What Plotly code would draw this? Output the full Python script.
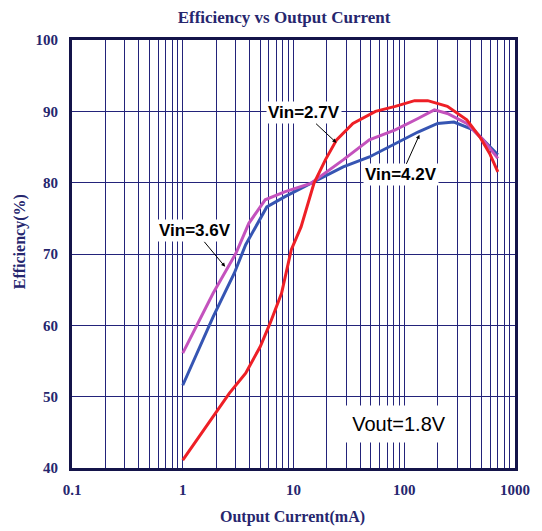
import plotly.graph_objects as go

# ---- data ----
i_27 = [1, 1.88, 2.64, 3.7, 5.0, 6.15, 7.8, 9.55, 11.7, 15.3, 19.4, 24.5, 34.4, 55, 83, 124, 163, 245, 367, 482, 590, 700]
eff_27 = [41.1, 47.2, 50.5, 53.3, 57.0, 60.3, 64.5, 70.6, 73.8, 79.9, 83.2, 86.0, 88.3, 90.0, 90.7, 91.5, 91.5, 90.7, 88.8, 86.4, 84.1, 81.5]

i_36 = [1, 1.88, 3.02, 3.95, 5.55, 8.3, 14.3, 28.1, 48.4, 83, 133, 187, 245, 367, 515, 700]
eff_36 = [56.1, 64.5, 70.1, 74.3, 77.6, 78.7, 79.9, 83.2, 86.0, 87.4, 89.0, 90.2, 89.7, 88.3, 86.0, 83.4]

i_42 = [1, 1.88, 2.92, 3.7, 5.74, 8.3, 14.3, 28.1, 48.4, 83, 133, 200, 281, 421, 552, 700]
eff_42 = [51.6, 61.2, 67.3, 71.3, 76.6, 78.0, 79.9, 82.2, 83.6, 85.5, 87.1, 88.3, 88.5, 87.4, 85.5, 83.9]

x_ticks = [0.1, 1, 10, 100, 1000]
x_tick_labels = ["0.1", "1", "10", "100", "1000"]
y_ticks = [40, 50, 60, 70, 80, 90, 100]

NAVY = "#26266e"
GRID = "#23237a"
SERIF = "Liberation Serif, Times New Roman, serif"
SANS = "Liberation Sans, Arial, sans-serif"

# the page body adds an 8px offset; figure size compensates for it
W, H = 534, 523

fig = go.Figure()
fig.add_trace(go.Scatter(x=i_42, y=eff_42, mode="lines", line=dict(color="#3655b3", width=3), name="Vin=4.2V"))
fig.add_trace(go.Scatter(x=i_36, y=eff_36, mode="lines", line=dict(color="#c452bd", width=3), name="Vin=3.6V"))
fig.add_trace(go.Scatter(x=i_27, y=eff_27, mode="lines", line=dict(color="#ee1f26", width=3), name="Vin=2.7V"))

fig.update_layout(
    width=W, height=H,
    margin=dict(l=64, r=16, t=32, b=63),
    paper_bgcolor="white", plot_bgcolor="white",
    showlegend=False,
    title=dict(text="<b>Efficiency vs Output Current</b>", x=276/W, xanchor="center",
               y=1 - 3/H, yanchor="top", pad=dict(t=0, b=0),
               font=dict(family=SERIF, size=17, color=NAVY)),
    xaxis=dict(type="log", range=[-1, 3], tickvals=x_ticks, ticktext=x_tick_labels,
               showgrid=True, gridcolor=GRID, gridwidth=1,
               minor=dict(dtick="D1", showgrid=True, gridcolor=GRID, gridwidth=1, ticks=""),
               showline=True, linecolor="#14144a", linewidth=3, mirror=True,
               ticks="", tickfont=dict(family=SERIF, size=15, color=NAVY, weight="bold"),
               zeroline=False, ticklabelstandoff=6),
    yaxis=dict(range=[40, 100], tickvals=y_ticks,
               showgrid=True, gridcolor=GRID, gridwidth=1,
               showline=True, linecolor="#14144a", linewidth=3, mirror=True,
               ticks="", tickfont=dict(family=SERIF, size=15, color=NAVY, weight="bold"),
               zeroline=False, ticklabelstandoff=8),
)

ann_font = dict(family=SANS, size=17, color="black")
fig.add_annotation(x=1.387, y=85.6, xref="x", yref="y", text="<b>Vin=2.7V</b>",
                   ax=-32, ay=-30, showarrow=True, arrowhead=2, arrowsize=0.8, arrowwidth=1,
                   arrowcolor="black", bgcolor="white", font=ann_font)
fig.add_annotation(x=2.137, y=86.7, xref="x", yref="y", text="<b>Vin=4.2V</b>",
                   ax=-18, ay=40, showarrow=True, arrowhead=2, arrowsize=0.8, arrowwidth=1,
                   arrowcolor="black", bgcolor="white", font=ann_font)
fig.add_annotation(x=0.383, y=68.2, xref="x", yref="y", text="<b>Vin=3.6V</b>",
                   ax=-30, ay=-36, showarrow=True, arrowhead=2, arrowsize=0.8, arrowwidth=1,
                   arrowcolor="black", bgcolor="white", font=ann_font)
fig.add_annotation(x=(466-72)/454, y=(468-443)/428, xref="paper", yref="paper",
                   text="Vout=1.8V", showarrow=False, bgcolor="white",
                   width=110, height=34, font=dict(family=SANS, size=20, color="black"))

# axis titles
fig.add_annotation(x=(298-72)/454, y=-(517-468)/428, xref="paper", yref="paper",
                   text="<b>Output Current(mA)</b>", showarrow=False, yanchor="middle",
                   font=dict(family=SERIF, size=16, color=NAVY))
fig.add_annotation(x=-(72-19)/454, y=(468-242)/428, xref="paper", yref="paper",
                   text="<b>Efficiency(%)</b>", showarrow=False, textangle=-90,
                   xanchor="center", yanchor="middle",
                   font=dict(family=SERIF, size=16, color=NAVY))

fig.write_html("out.html")
